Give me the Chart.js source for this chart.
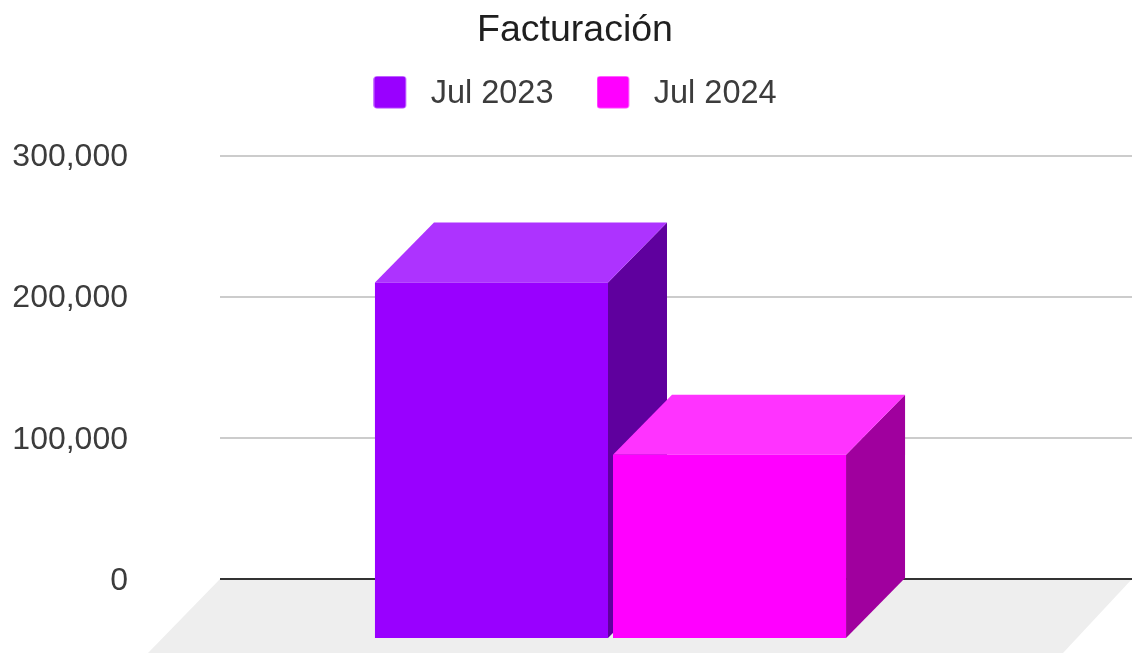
<!DOCTYPE html>
<html><head><meta charset="utf-8">
<style>html,body{margin:0;padding:0;background:#fff}canvas{display:block}</style>
<script src="https://cdn.jsdelivr.net/npm/chart.js@4"></script>
</head><body><canvas id="c" width="1132" height="654"></canvas>
<script>
const categories = ['Facturación'];
const seriesNames = ['Jul 2023', 'Jul 2024'];
const jul2023 = [252500];
const jul2024 = [130500];
const yTicks = [0, 100000, 200000, 300000];
const frontColors = ['#9900ff', '#ff00ff'];
const topColors = ['#ad33ff', '#ff33ff'];
const sideColors = ['#5f009e', '#a0009e'];
const depthX = 59, depthY = 60, shiftX = -6.5;
const floorColor = '#eeeeee';

function swatch(color) {
  const k = document.createElement('canvas');
  k.width = 41; k.height = 37;
  const g = k.getContext('2d');
  g.fillStyle = color;
  g.beginPath(); g.roundRect(0.5, 0.5, 32, 32, 3); g.fill();
  return k;
}
function poly(ctx, pts, color) {
  ctx.fillStyle = color;
  ctx.beginPath();
  pts.forEach((p, i) => i ? ctx.lineTo(p[0], p[1]) : ctx.moveTo(p[0], p[1]));
  ctx.closePath(); ctx.fill();
}
const box3d = {
  id: 'box3d',
  beforeLayout(chart) {
    const lg = chart.legend;
    if (!lg._wrapped) {
      const fit = lg.fit;
      lg.fit = function () { fit.call(this); this.height += 35; };
      lg._wrapped = true;
    }
  },
  afterLayout(chart) { chart.scales.y.left = 0; },
  beforeDraw(chart) {
    const a = chart.chartArea, ctx = chart.ctx;
    const y0 = chart.scales.y.getPixelForValue(0);
    ctx.save();
    poly(ctx, [[a.left, y0], [a.right, y0], [a.right - 69, y0 + 74], [a.left - 72, y0 + 74]], floorColor);
    ctx.restore();
  },
  beforeDatasetDraw() { return false; },
  afterDatasetsDraw(chart) {
    const ctx = chart.ctx;
    [0, 1].forEach(i => {
      const meta = chart.getDatasetMeta(i);
      ctx.save();
      ctx.translate(shiftX - depthX, depthY);
      meta.data.forEach(b => {
        const l = b.x - b.width / 2, r = b.x + b.width / 2, t = b.y, base = b.base;
        poly(ctx, [[r, t], [r + depthX, t - depthY], [r + depthX, base - depthY], [r, base]], sideColors[i]);
        poly(ctx, [[l, t], [l + depthX, t - depthY], [r + depthX, t - depthY], [r, t]], topColors[i]);
      });
      meta.controller.draw();
      ctx.restore();
    });
  }
};
new Chart(document.getElementById('c'), {
  type: 'bar',
  plugins: [box3d],
  data: {
    labels: categories,
    datasets: [
      { label: seriesNames[0], data: jul2023, backgroundColor: frontColors[0] },
      { label: seriesNames[1], data: jul2024, backgroundColor: frontColors[1] }
    ]
  },
  options: {
    responsive: false, animation: false,
    events: [],
    layout: { padding: { left: 18, right: 0, top: 0, bottom: 0 } },
    datasets: { bar: { categoryPercentage: 0.522, barPercentage: 0.979 } },
    plugins: {
      tooltip: { enabled: false },
      title: {
        display: true, text: categories[0], color: '#1f1f1f',
        font: { family: '"Liberation Sans"', size: 37.5, weight: 'normal' },
        padding: { top: 8.5, bottom: -18.5 }
      },
      legend: {
        display: true, position: 'top',
        labels: {
          color: '#3c3c3c', font: { family: '"Liberation Sans"', size: 32.5 },
          usePointStyle: true, pointStyleWidth: 41, boxHeight: 33, padding: 43,
          generateLabels(chart) {
            const items = Chart.defaults.plugins.legend.labels.generateLabels(chart);
            items.forEach((it, i) => { it.pointStyle = swatch(frontColors[i]); });
            return items;
          }
        }
      }
    },
    scales: {
      x: { display: false },
      y: {
        min: 0, max: 300000,
        border: { display: false },
        afterFit(s) { s.width = 202; s.paddingTop = 0; s.paddingBottom = 75; },
        afterBuildTicks(s) { s.ticks = yTicks.map(v => ({ value: v })); },
        grid: {
          drawTicks: false, lineWidth: 2,
          color: c => c.tick.value === 0 ? '#333333' : '#cccccc'
        },
        ticks: {
          padding: 92, color: '#3c3c3c', labelOffset: 2,
          font: { family: '"Liberation Sans"', size: 32 },
          callback: v => v.toLocaleString('en-US')
        }
      }
    }
  }
});
</script></body></html>
